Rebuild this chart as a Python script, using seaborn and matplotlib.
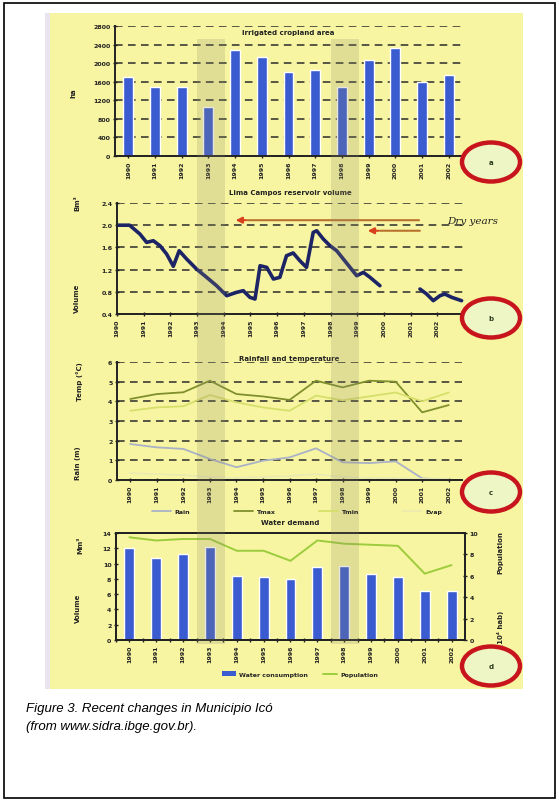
import numpy as np
import pandas as pd
import matplotlib
matplotlib.use("Agg")
import matplotlib.pyplot as plt
from matplotlib.patches import Rectangle, Ellipse, Patch
from matplotlib.lines import Line2D
import seaborn as sns

# ---------------- data ----------------
years = list(range(1990, 2003))
year_labels = [str(y) for y in years]
drought_years = [1993, 1998]

# (a) irrigated cropland, ha
area_ha = [1710, 1495, 1495, 1063, 2284, 2140, 1817, 1853, 1495, 2068, 2320, 1601, 1745]

# (b) reservoir volume (10^9 m3); NaN marks the missing record
vol_time = [1990.00, 1990.47, 1990.86, 1991.11, 1991.36, 1991.61, 1991.86, 1992.11,
            1992.33, 1992.61, 1992.98, 1993.36, 1993.73, 1994.11, 1994.48, 1994.73,
            1994.98, 1995.17, 1995.36, 1995.61, 1995.86, 1996.10, 1996.35, 1996.60,
            1996.85, 1997.10, 1997.35, 1997.48, 1997.73, 1997.98, 1998.23, 1998.48,
            1998.73, 1998.98, 1999.23, 1999.48, 1999.85, 2000.50,
            2001.35, 2001.60, 2001.85, 2002.10, 2002.28, 2002.54, 2002.91]
vol_bm3 = [2.00, 2.00, 1.84, 1.69, 1.72, 1.63, 1.48, 1.26,
           1.54, 1.39, 1.21, 1.06, 0.91, 0.73, 0.79, 0.82,
           0.70, 0.67, 1.27, 1.24, 1.03, 1.06, 1.45, 1.50,
           1.36, 1.24, 1.87, 1.90, 1.75, 1.63, 1.54, 1.39,
           1.24, 1.09, 1.15, 1.06, 0.91, np.nan,
           0.85, 0.76, 0.64, 0.73, 0.76, 0.70, 0.64]

# (c) climate parameters
rain = [1.83, 1.66, 1.58, 1.07, 0.65, 0.98, 1.15, 1.61, 0.90, 0.86, 0.95, 0.08, 0.02]
t_max = [4.12, 4.37, 4.46, 5.05, 4.37, 4.25, 4.07, 5.05, 4.71, 5.05, 5.00, 3.44, 3.81]
t_min = [3.52, 3.69, 3.75, 4.32, 3.95, 3.69, 3.52, 4.29, 4.05, 4.25, 4.45, 4.00, 4.45]
evap = [0.35, 0.30, 0.25, 0.15, 0.10, 0.15, 0.20, 0.30, 0.15, 0.10, 0.10, 0.05, 0.05]
clim_labels = ["Rain", "Tmax", "Tmin", "Evap"]

# (d) water demand and population
demand = [12.0, 10.7, 11.25, 12.2, 8.4, 8.2, 8.0, 9.6, 9.7, 8.6, 8.2, 6.45, 6.45]
population = [9.6, 9.3, 9.44, 9.44, 8.34, 8.34, 7.4, 9.3, 9.0, 8.9, 8.8, 6.2, 7.0]

titles = ["Irrigated cropland area", "Lima Campos reservoir volume",
          "Rainfall and temperature", "Water demand"]

# ---------------- style ----------------
sns.set_theme(style="ticks")
plt.rcParams["font.family"] = ["DejaVu Sans"]

W, H = 559, 803
fig = plt.figure(figsize=(W / 100, H / 100), dpi=100, facecolor="white")


def frac_box(l, r, t, b):
    return [l / W, 1 - b / H, (r - l) / W, (b - t) / H]


def fx(x):
    return x / W


def fy(y):
    return 1 - y / H


BLUE = "#3b5bd0"
INK = "#222222"
TICK_FS = 4.5

# outer frame and the yellow plate behind the charts
fig.patches.append(Rectangle((fx(4), fy(799)), 551 / W, 795 / H, transform=fig.transFigure,
                             fill=False, ec="black", lw=1.2, zorder=0))
fig.patches.append(Rectangle((fx(45), fy(690)), 478 / W, 676 / H, transform=fig.transFigure,
                             fc="#f8f5a2", ec="none", zorder=-2))
fig.patches.append(Rectangle((fx(45), fy(690)), 5 / W, 676 / H, transform=fig.transFigure,
                             fc="#e9e4ef", ec="none", zorder=-1))


def style_axis(ax, grid=True):
    ax.set_facecolor("none")
    for s in ["top", "right"]:
        ax.spines[s].set_visible(False)
    for s in ["left", "bottom"]:
        ax.spines[s].set_color(INK)
        ax.spines[s].set_linewidth(1.4)
    ax.tick_params(axis="both", labelsize=TICK_FS, length=3.5, width=1, color=INK,
                   direction="inout", pad=1.5, labelcolor=INK)
    if grid:
        ax.yaxis.grid(True, color="#2b2b2b", lw=1.1, ls=(0, (5, 3.5)))
    ax.set_axisbelow(True)
    ax.set_xlabel("")
    ax.set_ylabel("")


def bold_ticks(ax):
    for lab in ax.get_xticklabels() + ax.get_yticklabels():
        lab.set_fontweight("bold")


mid = np.array(years) + 0.5

# ---------------- (a) cropland ----------------
ax1 = fig.add_axes(frac_box(115, 462, 27, 157))
sns.barplot(x=mid, y=area_ha, native_scale=True, color=BLUE, width=0.37,
            saturation=1, ax=ax1)
style_axis(ax1)
ax1.set_xlim(1990, 2003)
ax1.set_ylim(0, 2800)
ax1.set_yticks(range(0, 2801, 400))
ax1.set_xticks(mid, year_labels, rotation=90)
bold_ticks(ax1)
ax1.text(0.5, 0.954, titles[0], transform=ax1.transAxes, ha="center", va="center",
         fontsize=5, weight="bold", color=INK)
fig.text(fx(73), fy(93), "ha", rotation=90, ha="center", va="center", fontsize=5,
         weight="bold", color=INK)

# ---------------- (b) reservoir ----------------
ax2 = fig.add_axes(frac_box(117, 464, 204, 315))
vol = pd.DataFrame({"t": vol_time, "v": vol_bm3})
vol["seg"] = vol["v"].isna().cumsum()
vol = vol.dropna()
sns.lineplot(data=vol, x="t", y="v", units="seg", estimator=None, color="#1c2466",
             lw=2.6, ax=ax2)
style_axis(ax2)
ax2.set_xlim(1990, 2003)
ax2.set_ylim(0.4, 2.4)
ax2.set_yticks(np.arange(0.4, 2.41, 0.4), [f"{v:.1f}" for v in np.arange(0.4, 2.41, 0.4)])
ax2.set_xticks(years, year_labels, rotation=90)
bold_ticks(ax2)
ax2.text(0.5, 1.1, titles[1], transform=ax2.transAxes, ha="center", va="center",
         fontsize=5, weight="bold", color=INK)
fig.text(fx(77), fy(203), "Bm³", rotation=90, ha="center", va="center", fontsize=5,
         weight="bold", color=INK)
fig.text(fx(77), fy(298), "Volume", rotation=90, ha="center", va="center", fontsize=5,
         weight="bold", color=INK)

# dry-year arrows
for y0, x_tail, x_head in [(2.09, 2001.42, 1994.34), (1.90, 2001.45, 1999.29)]:
    ax2.annotate("", xy=(x_head + 0.45, y0), xytext=(x_tail, y0),
                 arrowprops=dict(arrowstyle="-", color="#b8722e", lw=1.5))
    ax2.annotate("", xy=(x_head, y0), xytext=(x_head + 0.6, y0),
                 arrowprops=dict(arrowstyle="-|>", color="#d8401c", lw=1.5,
                                 mutation_scale=9))
fig.text(fx(447), fy(222), "Dry years", fontsize=7.5, style="italic", family="DejaVu Serif",
         va="center", ha="left", color="#222")

# ---------------- (c) climate ----------------
ax3 = fig.add_axes(frac_box(117, 462, 363, 481))
clim_colors = ["#a9b2c6", "#7f8f2c", "#d6df6a", "#ecebb0"]
for series, col, lab in zip([rain, t_max, t_min, evap], clim_colors, clim_labels):
    sns.lineplot(x=mid, y=series, color=col, lw=1.3, ax=ax3, label=lab)
style_axis(ax3)
ax3.set_xlim(1990, 2003)
ax3.set_ylim(0, 6)
ax3.set_yticks(range(0, 7))
ax3.set_xticks(mid, year_labels, rotation=90)
bold_ticks(ax3)
ax3.text(0.5, 1.03, titles[2], transform=ax3.transAxes, ha="center", va="center",
         fontsize=5, weight="bold", color=INK)
ax3.legend_.remove()
handles3 = [Line2D([0], [0], color=c, lw=1.3) for c in clim_colors]
fig.legend(handles3, clim_labels, loc="center", bbox_to_anchor=(fx(297), fy(512)),
           ncol=4, frameon=False, handlelength=3, columnspacing=7,
           handletextpad=0.6, prop={"weight": "bold", "size": 4.5})
fig.text(fx(80), fy(382), "Temp (°C)", rotation=90, ha="center", va="center", fontsize=5,
         weight="bold", color=INK)
fig.text(fx(78), fy(463), "Rain (m)", rotation=90, ha="center", va="center", fontsize=5,
         weight="bold", color=INK)

# ---------------- (d) water demand ----------------
ax4 = fig.add_axes(frac_box(116, 465, 534, 641))
sns.barplot(x=mid, y=demand, native_scale=True, color=BLUE, width=0.37, saturation=1, ax=ax4)
ax4b = ax4.twinx()
sns.lineplot(x=mid, y=population, color="#9ccc3c", lw=1.4, ax=ax4b)
for a in (ax4, ax4b):
    a.set_facecolor("none")
    for s in a.spines.values():
        s.set_color(INK)
        s.set_linewidth(1.4)
    a.tick_params(axis="both", labelsize=TICK_FS, length=3.5, width=1, color=INK,
                  direction="inout", pad=1.5, labelcolor=INK)
    a.set_xlabel("")
    a.set_ylabel("")
ax4.set_xlim(1990, 2003)
ax4.set_ylim(0, 14)
ax4.set_yticks(range(0, 15, 2))
ax4.set_xticks(mid, year_labels, rotation=90)
ax4.set_xticks(years, minor=True)
ax4.tick_params(axis="x", which="minor", length=3, width=1, color=INK, direction="inout")
ax4b.set_ylim(0, 10)
ax4b.set_yticks(range(0, 11, 2))
bold_ticks(ax4)
bold_ticks(ax4b)
ax4.text(0.5, 1.1, titles[3], transform=ax4.transAxes, ha="center", va="center",
         fontsize=5, weight="bold", color=INK)
fig.text(fx(80), fy(545), "Mm³", rotation=90, ha="center", va="center", fontsize=5,
         weight="bold", color=INK)
fig.text(fx(78), fy(608), "Volume", rotation=90, ha="center", va="center", fontsize=5,
         weight="bold", color=INK)
fig.text(fx(500), fy(553), "Population", rotation=90, ha="center", va="center", fontsize=5,
         weight="bold", color=INK)
fig.text(fx(500), fy(629), "(10⁴ hab)", rotation=90, ha="center", va="center", fontsize=5,
         weight="bold", color=INK)
handles4 = [Patch(fc=BLUE, ec="none"), Line2D([0], [0], color="#9ccc3c", lw=1.4)]
fig.legend(handles4, ["Water consumption", "Population"], loc="center",
           bbox_to_anchor=(fx(300), fy(675)), ncol=2, frameon=False, handlelength=2.2,
           columnspacing=2.5, handletextpad=0.5, prop={"weight": "bold", "size": 4.5})

# ---------------- drought-year bands across all panels ----------------
inv = fig.transFigure.inverted()
for yr in drought_years:
    x0 = inv.transform(ax2.transData.transform((yr, 1)))[0]
    x1 = inv.transform(ax2.transData.transform((yr + 1.05, 1)))[0]
    fig.patches.append(Rectangle((x0, fy(645)), x1 - x0, (645 - 40) / H,
                                 transform=fig.transFigure, fc="#8f8a6a", alpha=0.22,
                                 ec="none", zorder=5))

# ---------------- panel markers ----------------
for letter, cy in zip("abcd", [163, 319, 493, 667]):
    fig.patches.append(Ellipse((fx(491), fy(cy)), 58 / W, 39 / H, transform=fig.transFigure,
                               fc="#eef6c6", ec="#c8141c", lw=3.2, zorder=6))
    fig.text(fx(491), fy(cy), letter, ha="center", va="center", fontsize=5, weight="bold",
             color="#2a3a1a", zorder=7)

# ---------------- caption ----------------
cap_font = ["Liberation Sans", "DejaVu Sans"]
fig.text(fx(26), fy(709), "Figure 3. Recent changes in Municipio Icó", fontsize=9.5,
         style="italic", family=cap_font, va="center", ha="left", color="black")
fig.text(fx(26), fy(727), "(from www.sidra.ibge.gov.br).", fontsize=9.5,
         style="italic", family=cap_font, va="center", ha="left", color="black")

fig.savefig("out.png", dpi=100, facecolor="white")
